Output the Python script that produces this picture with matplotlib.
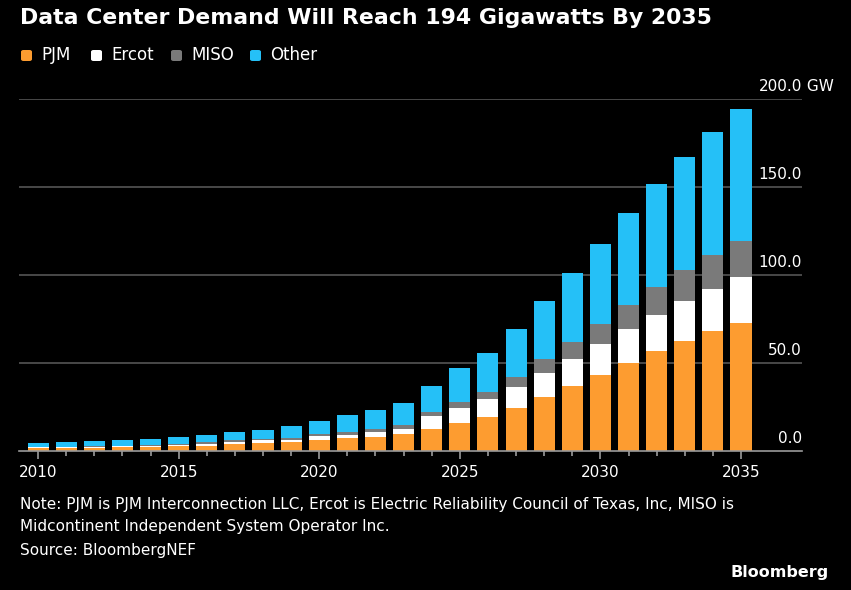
"""Stacked bars of US data center power demand by grid region, 2010-2035."""

import matplotlib
matplotlib.use("Agg")
import matplotlib.pyplot as plt
from matplotlib.patches import FancyBboxPatch
from matplotlib import transforms

YEARS = list(range(2010, 2036))
PJM = [1.5, 1.6, 1.8, 2.0, 2.2, 2.6, 3.0, 4.0, 4.4, 4.9, 6.5, 7.2, 8.1, 9.7,
       12.3, 15.7, 19.1, 24.4, 30.7, 36.9, 43.4, 50.2, 56.6, 62.7, 68.0, 72.7]
ERCOT = [0.5, 0.5, 0.6, 0.6, 0.6, 0.9, 1.1, 1.3, 1.7, 1.5, 1.9, 1.9, 2.5, 3.0,
         7.8, 8.7, 10.3, 12.1, 13.6, 15.4, 17.2, 18.9, 20.9, 22.5, 24.2, 26.0]
MISO = [0.3, 0.4, 0.4, 0.5, 0.7, 0.7, 1.0, 0.8, 0.9, 1.0, 1.2, 1.7, 1.7, 2.3,
        2.1, 3.6, 4.3, 5.5, 8.0, 9.8, 11.7, 13.9, 15.7, 17.5, 19.2, 20.6]
OTHER = [2.5, 2.8, 2.9, 3.1, 3.3, 3.8, 4.1, 4.7, 4.7, 6.6, 7.2, 9.5, 10.8, 12.3,
         14.9, 19.0, 22.2, 27.3, 32.7, 38.9, 45.5, 52.0, 58.3, 64.5, 70.0, 74.8]

SERIES = [("PJM", PJM, "#fd9c30"), ("Ercot", ERCOT, "#ffffff"),
          ("MISO", MISO, "#7a7a7a"), ("Other", OTHER, "#25c0f7")]
Y_TICKS = [0, 50, 100, 150, 200]
X_TICKS = [2010, 2015, 2020, 2025, 2030, 2035]

W, H = 851, 590
BG = "#000000"
FONT = "DejaVu Sans"

fig = plt.figure(figsize=(W / 100, H / 100), dpi=100, facecolor=BG)

def fx(px):
    return px / W

def fy(py):
    # pixel row from the top -> figure fraction
    return 1 - py / H

# plot area, in pixels: x 19..802, y 99..451
ax = fig.add_axes([fx(19), fy(451), fx(802 - 19), (451 - 99) / H])
ax.set_facecolor(BG)

bottom = [0.0] * len(YEARS)
for label, vals, color in SERIES:
    ax.bar(YEARS, vals, width=0.75, bottom=bottom, color=color, linewidth=0, zorder=3)
    bottom = [b + v for b, v in zip(bottom, vals)]

ax.set_xlim(2009.32, 2037.17)
ax.set_ylim(0, 200)

for s in ["top", "right", "left"]:
    ax.spines[s].set_visible(False)
ax.spines["bottom"].set_color("#9a9a9a")
ax.spines["bottom"].set_linewidth(1.2)
ax.spines["bottom"].set_zorder(4)

# gridlines
for v in Y_TICKS[1:]:
    ax.axhline(v, color="#555555", linewidth=1.2, zorder=1)

ax.set_yticks([])
ax.set_xticks(X_TICKS)
ax.set_xticks(YEARS, minor=True)
ax.tick_params(axis="x", which="major", length=6, width=1.2, color="#9a9a9a",
               labelcolor="white", labelsize=11, pad=4)
ax.tick_params(axis="x", which="minor", length=3.5, width=1.2, color="#9a9a9a")
for t in ax.get_xticklabels():
    t.set_fontfamily(FONT)

# y labels sit on top of the gridlines, right aligned
lab_tr = transforms.offset_copy(ax.get_yaxis_transform(), fig=fig, x=0, y=6, units="points")
for v in Y_TICKS:
    ax.text(1.0, v, f"{v:.1f}", transform=lab_tr, ha="right", va="baseline",
            color="white", fontsize=11, family=FONT)
ax.text(1.0, 200, " GW", transform=lab_tr, ha="left", va="baseline",
        color="white", fontsize=11, family=FONT)

# title
fig.text(fx(20), fy(18), "Data Center Demand Will Reach 194 Gigawatts By 2035",
         ha="left", va="center", color="white", fontsize=15.8, fontweight="bold", family=FONT)

# legend
leg_x = [21, 91, 171, 250]
for (label, vals, color), x0 in zip(SERIES, leg_x):
    box = FancyBboxPatch((fx(x0), fy(61)), fx(11), 11 / H,
                         boxstyle="round,pad=0,rounding_size=0.003",
                         transform=fig.transFigure, facecolor=color, edgecolor="none")
    fig.add_artist(box)
    fig.text(fx(x0 + 20), fy(55), label, ha="left", va="center",
             color="white", fontsize=12, family=FONT)

# notes
fig.text(fx(20), fy(504),
         "Note: PJM is PJM Interconnection LLC, Ercot is Electric Reliability Council of Texas, Inc, MISO is",
         ha="left", va="center", color="white", fontsize=11, family=FONT)
fig.text(fx(20), fy(526), "Midcontinent Independent System Operator Inc.",
         ha="left", va="center", color="white", fontsize=11, family=FONT)
fig.text(fx(20), fy(550), "Source: BloombergNEF",
         ha="left", va="center", color="white", fontsize=11, family=FONT)
fig.text(fx(829), fy(573), "Bloomberg", ha="right", va="center",
         color="white", fontsize=11.5, fontweight="bold", family=FONT)

fig.savefig("out.png", dpi=100, facecolor=BG)
